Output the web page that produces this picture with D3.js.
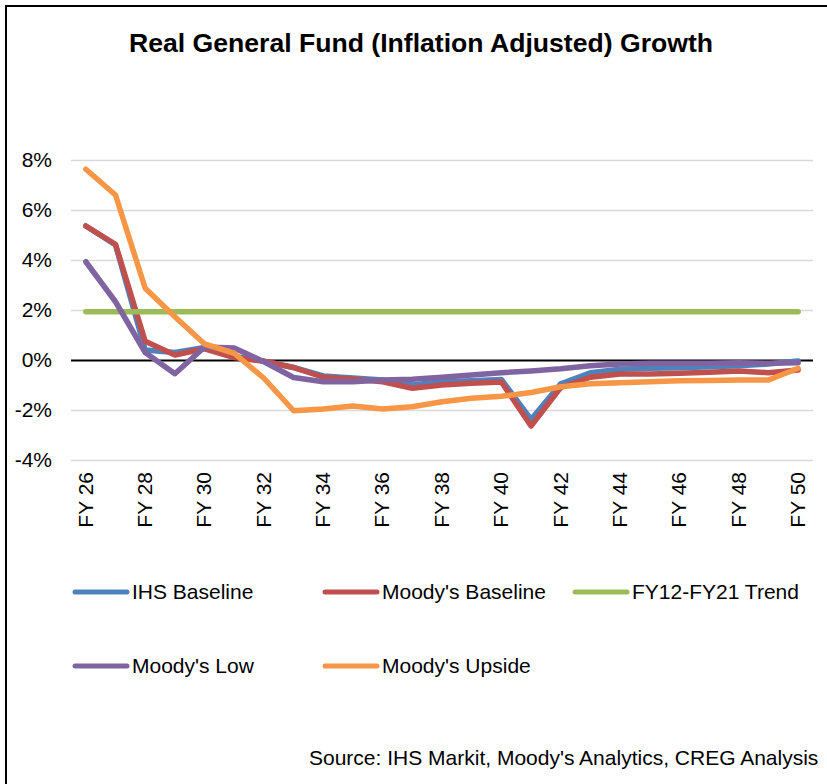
<!DOCTYPE html>
<html>
<head>
<meta charset="utf-8">
<script src="https://cdn.jsdelivr.net/npm/d3@7"></script>
<style>
  body { margin: 0; background: #fff; }
  text { font-family: "Liberation Sans", Arial, sans-serif; fill: #000; }
</style>
</head>
<body>
<script>
// fiscal years on the x axis
const years = d3.range(26, 51).map(y => 'FY ' + y)
const yTicks = [-4, -2, 0, 2, 4, 6, 8]

// growth in percent
const ihsBaseline = [5.36, 4.6, 0.4, 0.3, 0.5, 0.15, -0.05, -0.3, -0.64, -0.72, -0.8, -1.0, -0.87, -0.83, -0.78, -2.38, -0.95, -0.51, -0.37, -0.33, -0.31, -0.27, -0.23, -0.16, -0.04]
const moodysBaseline = [5.36, 4.63, 0.75, 0.2, 0.45, 0.1, -0.05, -0.3, -0.69, -0.76, -0.87, -1.13, -1.0, -0.93, -0.88, -2.64, -1.1, -0.69, -0.56, -0.56, -0.53, -0.49, -0.44, -0.51, -0.4]
const trend = [1.93, 1.93, 1.93, 1.93, 1.93, 1.93, 1.93, 1.93, 1.93, 1.93, 1.93, 1.93, 1.93, 1.93, 1.93, 1.93, 1.93, 1.93, 1.93, 1.93, 1.93, 1.93, 1.93, 1.93, 1.93]
const moodysLow = [3.93, 2.33, 0.3, -0.55, 0.52, 0.48, -0.07, -0.7, -0.87, -0.87, -0.8, -0.77, -0.69, -0.6, -0.51, -0.44, -0.35, -0.23, -0.16, -0.13, -0.13, -0.13, -0.11, -0.13, -0.11]
const moodysUpside = [7.63, 6.6, 2.87, 1.73, 0.64, 0.27, -0.73, -2.03, -1.96, -1.84, -1.96, -1.87, -1.67, -1.53, -1.45, -1.3, -1.07, -0.95, -0.91, -0.87, -0.83, -0.82, -0.8, -0.8, -0.33]

const seriesNames = ['IHS Baseline', "Moody's Baseline", 'FY12-FY21 Trend', "Moody's Low", "Moody's Upside"]
const seriesColors = ['#4f81bd', '#c0504d', '#9bbb59', '#8064a2', '#f79646']
const seriesValues = [ihsBaseline, moodysBaseline, trend, moodysLow, moodysUpside]

const w = 827
const h = 784
const plotLeft = 71
const plotRight = 813
const plotTop = 160
const plotBottom = 460

const svg = d3.select('body').append('svg')
  .attr('width', w)
  .attr('height', h)

// frame (top + left edges)
svg.append('path')
  .attr('d', `M6,${h} V6 H${w}`)
  .attr('fill', 'none')
  .attr('stroke', '#000')
  .attr('stroke-width', 2)

svg.append('text')
  .attr('x', 421)
  .attr('y', 52)
  .attr('text-anchor', 'middle')
  .attr('font-size', 26.6)
  .attr('font-weight', 'bold')
  .text('Real General Fund (Inflation Adjusted) Growth')

const xScale = d3.scalePoint()
  .domain(years)
  .range([plotLeft, plotRight])
  .padding(0.5)

const yScale = d3.scaleLinear()
  .domain([-4, 8])
  .range([plotBottom, plotTop])

// gridlines + y labels
const yAxis = d3.axisLeft(yScale)
  .tickValues(yTicks)
  .tickSize(-(plotRight - plotLeft))
  .tickPadding(19)
  .tickFormat(d => d + '%')

const gy = svg.append('g')
  .attr('transform', `translate(${plotLeft},0)`)
  .call(yAxis)
gy.select('.domain').remove()
gy.selectAll('line')
  .attr('stroke', d => d === 0 ? '#000' : '#d9d9d9')
  .attr('stroke-width', d => d === 0 ? 2 : 1.5)
gy.selectAll('text')
  .attr('font-size', 21)
  .attr('font-family', '"Liberation Sans", Arial, sans-serif')
  .attr('fill', '#000')

// x labels, every other year, rotated
const xAxis = d3.axisBottom(xScale)
  .tickValues(years.filter((d, i) => i % 2 === 0))
  .tickSize(0)

const gx = svg.append('g')
  .attr('transform', `translate(0,${plotBottom})`)
  .call(xAxis)
gx.select('.domain').remove()
gx.selectAll('text')
  .attr('font-size', 21)
  .attr('font-family', '"Liberation Sans", Arial, sans-serif')
  .attr('fill', '#000')
  .attr('text-anchor', 'end')
  .attr('transform', 'translate(0,12) rotate(-90)')
  .attr('x', 0)
  .attr('y', 0)
  .attr('dy', '0.3em')

const lineFn = (vals) => d3.line()
  .x((d, i) => xScale(years[i]))
  .y(d => yScale(d))(vals)

seriesValues.forEach((vals, i) => {
  svg.append('path')
    .attr('d', lineFn(vals))
    .attr('fill', 'none')
    .attr('stroke', seriesColors[i])
    .attr('stroke-width', 5.5)
    .attr('stroke-linejoin', 'round')
    .attr('stroke-linecap', 'round')
})

// legend
const legendPos = [[73, 592], [323, 592], [573, 592], [73, 666], [323, 666]]
seriesNames.forEach((name, i) => {
  const [lx, ly] = legendPos[i]
  const g = svg.append('g').attr('transform', `translate(${lx},${ly})`)
  g.append('line')
    .attr('x1', 2).attr('x2', 54)
    .attr('stroke', seriesColors[i])
    .attr('stroke-width', 5)
    .attr('stroke-linecap', 'round')
  g.append('text')
    .attr('x', 59)
    .attr('dy', '0.35em')
    .attr('font-size', 21)
    .text(name)
})

svg.append('text')
  .attr('x', 309)
  .attr('y', 765)
  .attr('font-size', 21)
  .text("Source: IHS Markit, Moody's Analytics, CREG Analysis")
</script>
</body>
</html>
